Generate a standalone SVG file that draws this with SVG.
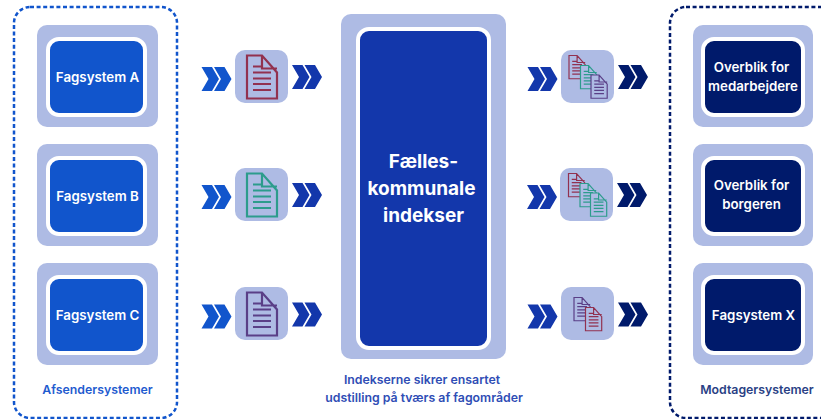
<svg xmlns="http://www.w3.org/2000/svg" width="821" height="419" viewBox="0 0 821 419">
<style>
text{font-family:"Inter","Liberation Sans",sans-serif;font-weight:600;text-anchor:middle}
.t{fill:#fff;font-size:13.300px}
.big{fill:#fff;font-size:19px;font-weight:700}
.cap{font-size:12.300px}
.outer{fill:#aebbe4}
.inner{stroke:#fff;stroke-width:4}
.tile{fill:#aebbe4}
.dash{fill:none;stroke-width:2.5;stroke-dasharray:4 2.6}
.doc{fill:#aebbe4;stroke-width:2.2}
.red{stroke:#92314f}.teal{stroke:#2c9c8c}.pur{stroke:#5a3f87}
.c1{fill:#1155cc}.c2{fill:#1337ab}.c3{fill:#001a6b}
</style>
<defs>
<g id="doc"><path d="M0 0H15L30 17V43H0Z M15 0V13H30 M6 11H15 M6 17H24 M6 23H24 M6 28.500H24 M6 34.500H24"/></g>
<g id="chev"><path d="M0 0H10.500L17.500 12L10.500 24H0L7 12Z M12.500 0H23L30 12L23 24H12.500L19.500 12Z"/></g>
</defs>
<g id="afsendersystemer"><rect class="dash" x="14" y="7" width="163" height="411" rx="16" stroke="#1155cc"/><text class="cap" x="97.500" y="394" fill="#1f5bcf">Afsendersystemer</text></g>
<g id="modtagersystemer"><rect class="dash" x="670" y="7" width="200" height="411" rx="16" stroke="#001a6b"/><text class="cap" x="757" y="394" fill="#2a3f85">Modtagersystemer</text></g>
<g id="fagsystem-a"><rect class="outer" x="37" y="25" width="121" height="102" rx="10"/><rect class="inner" x="48" y="39" width="97" height="76" rx="11" fill="#1155cc"/><text class="t" x="97.500" y="82">Fagsystem A</text></g>
<g id="fagsystem-b"><rect class="outer" x="37" y="144" width="121" height="102" rx="10"/><rect class="inner" x="48" y="158" width="97" height="76" rx="11" fill="#1155cc"/><text class="t" x="97.500" y="201">Fagsystem B</text></g>
<g id="fagsystem-c"><rect class="outer" x="37" y="263" width="121" height="102" rx="10"/><rect class="inner" x="48" y="277" width="97" height="76" rx="11" fill="#1155cc"/><text class="t" x="97.500" y="320">Fagsystem C</text></g>
<g id="indekser"><rect class="outer" x="341" y="14" width="165" height="345" rx="10"/><rect class="inner" x="358" y="29" width="131" height="319" rx="11" fill="#1337ab"/><text class="big" x="423.500" y="168">Fælles-</text><text class="big" x="421.500" y="195">kommunale</text><text class="big" x="423.500" y="222">indekser</text><text class="cap" x="422" y="384" fill="#2f4db5">Indekserne sikrer ensartet</text><text class="cap" x="424" y="402" fill="#2f4db5">udstilling på tværs af fagområder</text></g>
<g id="overblik-medarbejdere"><rect class="outer" x="693" y="25" width="120" height="102" rx="10"/><rect class="inner" x="703" y="39" width="100" height="76" rx="11" fill="#001a6b"/><text class="t" x="751.500" y="72">Overblik for</text><text class="t" x="753" y="91">medarbejdere</text></g>
<g id="overblik-borgeren"><rect class="outer" x="693" y="144" width="120" height="102" rx="10"/><rect class="inner" x="703" y="158" width="100" height="76" rx="11" fill="#001a6b"/><text class="t" x="751.500" y="190">Overblik for</text><text class="t" x="751.500" y="209">borgeren</text></g>
<g id="fagsystem-x"><rect class="outer" x="693" y="263" width="120" height="102" rx="10"/><rect class="inner" x="703" y="277" width="100" height="76" rx="11" fill="#001a6b"/><text class="t" x="753.500" y="320">Fagsystem X</text></g>
<g id="doc-a"><rect class="tile" x="235" y="50" width="53" height="53" rx="10"/><use href="#doc" class="doc red" x="247" y="55.500"/></g>
<g id="doc-b"><rect class="tile" x="235" y="168" width="53" height="53" rx="10"/><use href="#doc" class="doc teal" x="247" y="173.500"/></g>
<g id="doc-c"><rect class="tile" x="235" y="287" width="53" height="53" rx="10"/><use href="#doc" class="doc pur" x="247" y="292.500"/></g>
<g id="docs-a"><rect class="tile" x="561" y="50" width="53" height="53" rx="10"/><use href="#doc" class="doc red" transform="translate(569 55.500) scale(.54)"/><use href="#doc" class="doc teal" transform="translate(580.500 65.500) scale(.54)"/><use href="#doc" class="doc pur" transform="translate(591 75) scale(.54)"/></g>
<g id="docs-b"><rect class="tile" x="560" y="168" width="53" height="53" rx="10"/><use href="#doc" class="doc red" transform="translate(568.500 173.500) scale(.54)"/><use href="#doc" class="doc teal" transform="translate(580 183.500) scale(.54)"/><use href="#doc" class="doc teal" transform="translate(590.500 193) scale(.54)"/></g>
<g id="docs-c"><rect class="tile" x="561" y="287" width="53" height="53" rx="10"/><use href="#doc" class="doc pur" transform="translate(574 297.500) scale(.54)"/><use href="#doc" class="doc red" transform="translate(585.500 307.500) scale(.54)"/></g>
<g id="connectors">
<use href="#chev" class="c1" x="201.500" y="67"/><use href="#chev" class="c2" x="292" y="65"/>
<use href="#chev" class="c1" x="201.500" y="185"/><use href="#chev" class="c2" x="292" y="183"/>
<use href="#chev" class="c1" x="201.500" y="304.500"/><use href="#chev" class="c2" x="292" y="302.500"/>
<use href="#chev" class="c2" x="527.500" y="67"/><use href="#chev" class="c3" x="618" y="65"/>
<use href="#chev" class="c2" x="527" y="185"/><use href="#chev" class="c3" x="617" y="183"/>
<use href="#chev" class="c2" x="527.500" y="304.500"/><use href="#chev" class="c3" x="618" y="302.500"/>
</g>
</svg>
